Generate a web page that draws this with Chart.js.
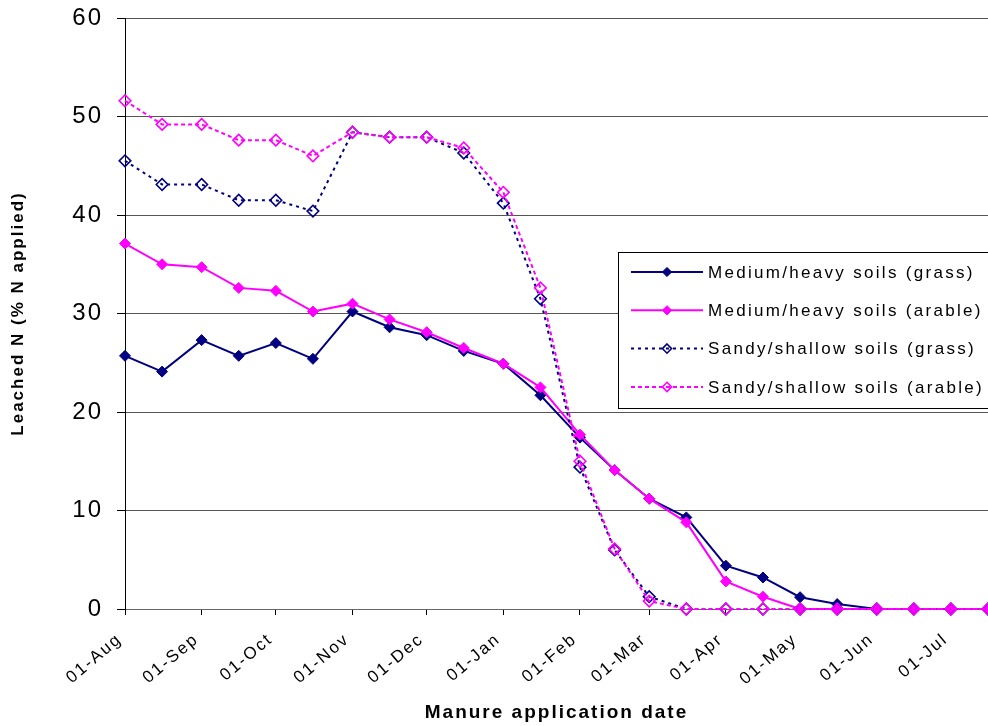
<!DOCTYPE html>
<html>
<head>
<meta charset="utf-8">
<script src="https://cdn.jsdelivr.net/npm/chart.js@4/dist/chart.umd.min.js"></script>
<style>
  html, body { margin: 0; padding: 0; background: #fff; }
  #wrap { width: 988px; height: 726px; }
</style>
</head>
<body>
<div id="wrap"><canvas id="leachChart" width="988" height="726"></canvas></div>
<script>
// application dates (1st and mid-month), Aug 2005 -> Jul 2006
const appDates = ['2005-08-01', '2005-08-16', '2005-09-01', '2005-09-16', '2005-10-01', '2005-10-16',
    '2005-11-01', '2005-11-16', '2005-12-01', '2005-12-16', '2006-01-01', '2006-01-16',
    '2006-02-01', '2006-02-15', '2006-03-01', '2006-03-16', '2006-04-01', '2006-04-16',
    '2006-05-01', '2006-05-16', '2006-06-01', '2006-06-16', '2006-07-01', '2006-07-16'];

// leached N, % of N applied
const mediumGrass = [25.7, 24.1, 27.3, 25.7, 27.0, 25.4, 30.2, 28.6, 27.8, 26.2, 24.9, 21.7,
    17.4, 14.1, 11.2, 9.3, 4.4, 3.2, 1.2, 0.5, 0, 0, 0, 0];
const mediumArable = [37.1, 35.0, 34.7, 32.6, 32.3, 30.2, 31.0, 29.4, 28.1, 26.5, 24.9, 22.5,
    17.7, 14.1, 11.2, 8.8, 2.8, 1.25, 0, 0, 0, 0, 0, 0];
const sandyGrass = [45.5, 43.1, 43.1, 41.5, 41.5, 40.4, 48.4, 47.9, 47.9, 46.3, 41.2, 31.5,
    14.4, 6.0, 1.25, 0, 0, 0, 0, 0, 0, 0, 0, 0];
const sandyArable = [51.6, 49.2, 49.2, 47.6, 47.6, 46.0, 48.4, 47.9, 47.9, 46.8, 42.3, 32.6,
    15.0, 6.1, 0.8, 0, 0, 0, 0, 0, 0, 0, 0, 0];

const seriesNames = ['Medium/heavy soils (grass)', 'Medium/heavy soils (arable)',
    'Sandy/shallow soils (grass)', 'Sandy/shallow soils (arable)'];

const tickDates = ['2005-08-01', '2005-09-01', '2005-10-01', '2005-11-01', '2005-12-01', '2006-01-01',
    '2006-02-01', '2006-03-01', '2006-04-01', '2006-05-01', '2006-06-01', '2006-07-01'];
const tickLabels = ['01-Aug', '01-Sep', '01-Oct', '01-Nov', '01-Dec', '01-Jan',
    '01-Feb', '01-Mar', '01-Apr', '01-May', '01-Jun', '01-Jul'];

const yTicks = [0, 10, 20, 30, 40, 50, 60];

const NAVY = '#000080';
const PINK = '#FF00FF';
const FONT = "'Liberation Sans', Arial, sans-serif";

const dayOf = d => Math.round((Date.parse(d) - Date.parse(appDates[0])) / 86400000);
const xDays = appDates.map(dayOf);
const tickDays = tickDates.map(dayOf);
const toPoints = vals => vals.map((v, i) => ({ x: xDays[i], y: v }));

function makeSet(label, vals, color, hollow, dash, order) {
    return {
        label: label,
        data: toPoints(vals),
        borderColor: color,
        borderWidth: 2,
        borderDash: dash,
        pointStyle: 'rectRot',
        pointRadius: hollow ? 5.8 : 5.5,
        pointBorderWidth: hollow ? 1.6 : 1,
        pointBackgroundColor: hollow ? 'rgba(255,255,255,0)' : color,
        pointBorderColor: color,
        tension: 0,
        clip: false,
        order: order,
    };
}

// sets letter spacing on every draw (canvas state gets reset on resize)
const spacingPlugin = {
    id: 'spacing',
    beforeUpdate(chart) { chart.ctx.letterSpacing = '2px'; },
    beforeLayout(chart) { chart.ctx.letterSpacing = '2px'; },
    beforeDraw(chart) { chart.ctx.letterSpacing = '2px'; },
};

// boxed legend inside the plot, Excel style
const boxLegend = {
    id: 'boxLegend',
    afterDraw(chart) {
        const ctx = chart.ctx;
        const left = 618, top = 252, bottom = 408;
        ctx.save();
        ctx.fillStyle = '#fff';
        ctx.fillRect(left, top, 400, bottom - top);
        ctx.strokeStyle = '#000';
        ctx.lineWidth = 1;
        ctx.strokeRect(left + 0.5, top + 0.5, 400, bottom - top);

        chart.data.datasets.forEach((ds, i) => {
            const y = 272 + i * 38.3;
            ctx.strokeStyle = ds.borderColor;
            ctx.lineWidth = ds.borderWidth;
            ctx.setLineDash(ds.borderDash || []);
            ctx.beginPath();
            ctx.moveTo(631, y);
            ctx.lineTo(703, y);
            ctx.stroke();
            ctx.setLineDash([]);

            const r = 4.6;
            ctx.beginPath();
            ctx.moveTo(667, y - r);
            ctx.lineTo(667 + r, y);
            ctx.lineTo(667, y + r);
            ctx.lineTo(667 - r, y);
            ctx.closePath();
            ctx.fillStyle = ds.pointBackgroundColor;
            ctx.fill();
            ctx.lineWidth = ds.pointBorderWidth;
            ctx.strokeStyle = ds.pointBorderColor;
            ctx.stroke();

            ctx.letterSpacing = '2.3px';
            ctx.fillStyle = '#000';
            ctx.font = '17px ' + FONT;
            ctx.textBaseline = 'middle';
            ctx.textAlign = 'left';
            ctx.fillText(ds.label, 708, y + 1);
        });
        ctx.restore();
    }
};

const ctx = document.getElementById('leachChart').getContext('2d');
new Chart(ctx, {
    type: 'line',
    data: {
        datasets: [
            makeSet(seriesNames[0], mediumGrass, NAVY, false, [], 3),
            makeSet(seriesNames[1], mediumArable, PINK, false, [], 2),
            makeSet(seriesNames[2], sandyGrass, NAVY, true, [3, 4], 1),
            makeSet(seriesNames[3], sandyArable, PINK, true, [4, 3], 0),
        ]
    },
    options: {
        responsive: false,
        animation: false,
        devicePixelRatio: 1,
        layout: { autoPadding: false, padding: { top: 18, right: 0, bottom: 0, left: 0 } },
        plugins: {
            legend: { display: false },
            tooltip: { enabled: false },
        },
        scales: {
            x: {
                type: 'linear',
                min: xDays[0],
                max: xDays[xDays.length - 1],
                afterBuildTicks: scale => { scale.ticks = tickDays.map(v => ({ value: v })); },
                afterFit: scale => {
                    scale.height = 117;
                    scale.paddingLeft = 0;
                    scale.paddingRight = 0;
                },
                ticks: {
                    autoSkip: false,
                    minRotation: 40,
                    maxRotation: 40,
                    padding: 10,
                    color: '#000',
                    font: { family: FONT, size: 17 },
                    callback: (v, i) => tickLabels[i] + ' ',
                },
                grid: {
                    drawOnChartArea: false,
                    drawTicks: true,
                    tickLength: 6,
                    color: '#000',
                },
                border: { color: '#666', width: 1 },
                title: {
                    display: true,
                    text: 'Manure application date',
                    color: '#000',
                    font: { family: FONT, size: 19, weight: 'bold' },
                    padding: { top: 0, bottom: 2 },
                },
            },
            y: {
                min: 0,
                max: 60,
                afterBuildTicks: scale => { scale.ticks = yTicks.map(v => ({ value: v })); },
                afterFit: scale => {
                    scale.width = 125;
                    scale.paddingTop = 0;
                    scale.paddingBottom = 0;
                },
                ticks: {
                    padding: 14,
                    color: '#000',
                    font: { family: FONT, size: 24 },
                },
                grid: {
                    color: '#555',
                    lineWidth: 1,
                    tickLength: 8,
                    tickColor: '#000',
                },
                border: { color: '#000', width: 1 },
                title: {
                    display: true,
                    text: 'Leached N (% N applied)',
                    color: '#000',
                    font: { family: FONT, size: 17, weight: 'bold' },
                    padding: { top: 8, bottom: 0 },
                },
            },
        },
    },
    plugins: [spacingPlugin, boxLegend],
});
</script>
</body>
</html>
